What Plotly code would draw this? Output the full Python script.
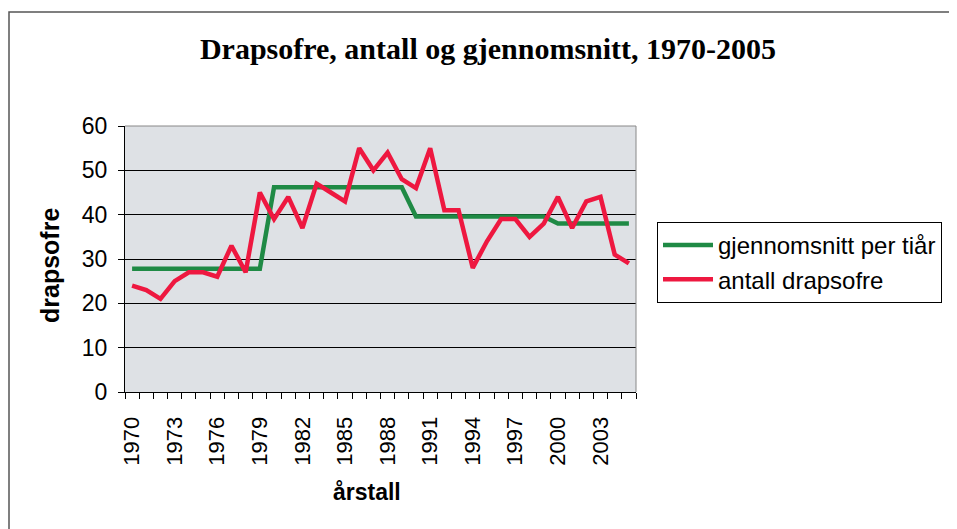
import plotly.graph_objects as go

years = list(range(1970, 2006))
antall = [24, 23, 21, 25, 27, 27, 26, 33, 27, 45,
          39, 44, 37, 47, 45, 43, 55, 50, 54, 48,
          46, 55, 41, 41, 28, 34, 39, 39, 35, 38,
          44, 37, 43, 44, 31, 29]
snitt = [27.8, 27.8, 27.8, 27.8, 27.8, 27.8, 27.8, 27.8, 27.8, 27.8,
         46.2, 46.2, 46.2, 46.2, 46.2, 46.2, 46.2, 46.2, 46.2, 46.2,
         39.6, 39.6, 39.6, 39.6, 39.6, 39.6, 39.6, 39.6, 39.6, 39.6,
         38.0, 38.0, 38.0, 38.0, 38.0, 38.0]
tick_years = [1970, 1973, 1976, 1979, 1982, 1985, 1988, 1991, 1994, 1997, 2000, 2003]
yticks = [0, 10, 20, 30, 40, 50, 60]

# page offset (default body margin)
O = 8
W, H = 957 - O, 529 - O
# plot area in screen pixels
L, R, T, B = 125, 636, 126, 392

def px(x):
    return (x - L) / (R - L)

def py(y):
    return (B - y) / (B - T)

fig = go.Figure()
fig.add_trace(go.Scatter(x=years, y=snitt, mode="lines", name="gjennomsnitt per tiår",
                         line=dict(color="#1f8a45", width=4.5)))
fig.add_trace(go.Scatter(x=years, y=antall, mode="lines", name="antall drapsofre",
                         line=dict(color="#ee1840", width=4.5)))

fig.update_layout(
    width=W, height=H,
    margin=dict(l=L - O, r=957 - R, t=T - O, b=529 - B, autoexpand=False),
    paper_bgcolor="white",
    plot_bgcolor="#dee1e5",
    font=dict(family="Liberation Sans, Arial, sans-serif", color="black"),
    title=dict(text="<b>Drapsofre, antall og gjennomsnitt, 1970-2005</b>",
               font=dict(family="Liberation Serif, Times New Roman, serif", size=30, color="black"),
               x=(488 - O) / W, xanchor="center", y=1 - (48 - O) / H, yanchor="middle"),
    showlegend=True,
    legend=dict(x=px(657), y=py(222), xanchor="left", yanchor="top",
                font=dict(size=24), bordercolor="black", borderwidth=1, bgcolor="white",
                tracegroupgap=0, itemwidth=50),
    xaxis=dict(range=[1969.5, 2005.5], tickmode="array", tickvals=tick_years,
               ticktext=[str(t) for t in tick_years], tickangle=-90,
               tickfont=dict(size=22), showgrid=False, zeroline=False,
               showline=True, linecolor="black", linewidth=1,
               ticks="outside", ticklen=15, tickcolor="rgba(0,0,0,0)",
               minor=dict(tickmode="array", tickvals=[y + 0.5 for y in range(1969, 2006)],
                          ticks="outside", ticklen=6, tickcolor="black", showgrid=False),
               mirror=False),
    yaxis=dict(range=[0, 60], tickmode="array", tickvals=yticks,
               tickfont=dict(size=23), showgrid=True, gridcolor="black", gridwidth=1,
               zeroline=False, showline=True, linecolor="black", linewidth=1,
               ticks="outside", ticklen=6, tickcolor="black", ticklabelstandoff=6),
    shapes=[
        dict(type="rect", xref="paper", yref="paper", x0=px(9), x1=px(1200), y0=py(12), y1=py(900),
             line=dict(color="#555555", width=1.5), fillcolor="rgba(0,0,0,0)", layer="below"),
        dict(type="line", xref="paper", yref="paper", x0=0, x1=1, y0=1, y1=1,
             line=dict(color="#888888", width=1)),
        dict(type="line", xref="paper", yref="paper", x0=1, x1=1, y0=0, y1=1,
             line=dict(color="#888888", width=1)),
    ],
    annotations=[
        dict(text="<b>drapsofre</b>", x=px(50), y=py(266), xref="paper", yref="paper",
             textangle=-90, showarrow=False, font=dict(size=25), xanchor="center", yanchor="middle"),
        dict(text="<b>årstall</b>", x=px(367), y=py(492), xref="paper", yref="paper",
             showarrow=False, font=dict(size=23), xanchor="center", yanchor="middle"),
    ],
)

fig.write_html("out.html")
